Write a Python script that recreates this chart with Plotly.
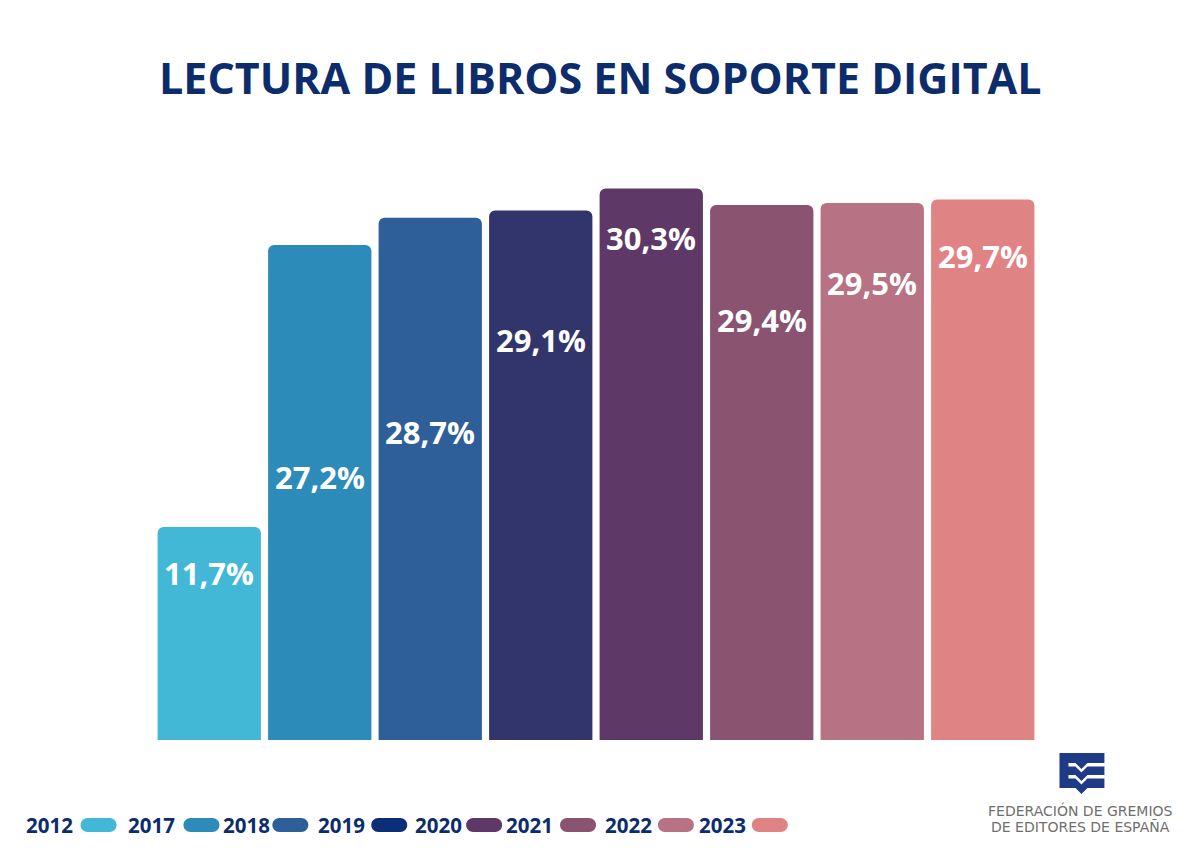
import plotly.graph_objects as go

# ---- data ----
years = ["2012", "2017", "2018", "2019", "2020", "2021", "2022", "2023"]
values = [11.7, 27.2, 28.7, 29.1, 30.3, 29.4, 29.5, 29.7]
labels = ["11,7%", "27,2%", "28,7%", "29,1%", "30,3%", "29,4%", "29,5%", "29,7%"]
bar_colors = ["#42b7d6", "#2d8bb9", "#2e5f98", "#32356b", "#5e3866", "#8a5370", "#b77283", "#e08384"]
legend_colors = ["#42b7d6", "#2d8bb9", "#2e5f98", "#0c2d78", "#5e3866", "#8a5370", "#b77283", "#e08384"]
# label heights (data units) inside bars, as placed in the original
label_heights = [9.2, 14.45, 16.9, 22.0, 27.6, 23.1, 25.1, 26.6]

W, H = 1200, 851
ML, MR, MT, MB = 153.5, 161.5, 150, 111
PW = W - ML - MR
PH = H - MT - MB
YMAX = PH / 18.2

def px(x):
    return (x - ML) / PW

def py(y):
    return (H - MB - y) / PH

NAVY = "#0d2c6c"
idx = list(range(len(years)))

fig = go.Figure()
fig.add_trace(go.Bar(
    x=idx, y=values,
    marker=dict(color=bar_colors, line=dict(width=0), cornerradius=6),
    width=0.935,
    hoverinfo="skip",
))

annotations = []
for i, lab, lh in zip(idx, labels, label_heights):
    annotations.append(dict(
        x=i, y=lh, xref="x", yref="y", text=lab, showarrow=False,
        font=dict(family="Open Sans", size=31, color="white", weight="bold"),
        xanchor="center", yanchor="middle",
    ))

# title
annotations.append(dict(
    x=px(601), y=py(77), xref="paper", yref="paper",
    text="LECTURA DE LIBROS EN SOPORTE DIGITAL", showarrow=False,
    font=dict(family="Open Sans", size=43, color=NAVY, weight="bold"),
    xanchor="center", yanchor="middle",
))

shapes = []
# custom legend: year text followed by a pill
text_x = [23, 125, 221, 316, 413, 504, 603, 697]
pill_x = [80, 183, 272, 371, 466, 560, 658, 752]
pill_w = 36
pill_top, pill_bot = 818, 832
for yr, tx, pxl, col in zip(years, text_x, pill_x, legend_colors):
    annotations.append(dict(
        x=px(tx), y=py(825), xref="paper", yref="paper", text=yr, showarrow=False,
        font=dict(family="Open Sans", size=20.5, color=NAVY, weight="bold"),
        xanchor="left", yanchor="middle",
    ))
    r = (pill_bot - pill_top) / 2
    k = 0.5523 * r
    x0, x1 = pxl, pxl + pill_w
    cy = (pill_top + pill_bot) / 2
    pts = [
        f"M {px(x0 + r)} {py(pill_top)}",
        f"L {px(x1 - r)} {py(pill_top)}",
        f"C {px(x1 - r + k)} {py(pill_top)} {px(x1)} {py(cy - k)} {px(x1)} {py(cy)}",
        f"C {px(x1)} {py(cy + k)} {px(x1 - r + k)} {py(pill_bot)} {px(x1 - r)} {py(pill_bot)}",
        f"L {px(x0 + r)} {py(pill_bot)}",
        f"C {px(x0 + r - k)} {py(pill_bot)} {px(x0)} {py(cy + k)} {px(x0)} {py(cy)}",
        f"C {px(x0)} {py(cy - k)} {px(x0 + r - k)} {py(pill_top)} {px(x0 + r)} {py(pill_top)}",
        "Z",
    ]
    shapes.append(dict(type="path", xref="paper", yref="paper", path=" ".join(pts),
                       fillcolor=col, line=dict(width=0), layer="above"))

# logo icon
LOGO = "#1f3b88"
lx0, lx1, ly0, ly1 = 1060, 1105, 753, 788
logo_pts = [(lx0, ly0), (lx1, ly0), (lx1, ly1), (1088, ly1), (1082, 794), (1076, ly1), (lx0, ly1)]
shapes.append(dict(type="path", xref="paper", yref="paper",
                   path="M " + " L ".join(f"{px(a)} {py(b)}" for a, b in logo_pts) + " Z",
                   fillcolor=LOGO, line=dict(width=0), layer="above"))
for y0 in (763, 775):
    stripe = [(1069, y0), (1076, y0), (1082, y0 + 6), (1088, y0), (lx1 + 1, y0),
              (lx1 + 1, y0 + 3.5), (1088, y0 + 3.5), (1082, y0 + 9.5), (1076, y0 + 3.5), (1069, y0 + 3.5)]
    shapes.append(dict(type="path", xref="paper", yref="paper",
                       path="M " + " L ".join(f"{px(a)} {py(b)}" for a, b in stripe) + " Z",
                       fillcolor="white", line=dict(width=0), layer="above"))
for txt, yy in (("FEDERACIÓN DE GREMIOS", 810), ("DE EDITORES DE ESPAÑA", 827)):
    annotations.append(dict(
        x=px(1081), y=py(yy), xref="paper", yref="paper", text=txt, showarrow=False,
        font=dict(family="DejaVu Sans", size=14, color="#6f6f6f"),
        xanchor="center", yanchor="middle",
    ))

fig.update_layout(
    width=W, height=H,
    margin=dict(l=ML, r=MR, t=MT, b=MB, pad=0),
    paper_bgcolor="white", plot_bgcolor="white",
    showlegend=False,
    xaxis=dict(visible=False, range=[-0.5, len(years) - 0.5], fixedrange=True),
    yaxis=dict(visible=False, range=[0, YMAX], fixedrange=True),
    annotations=annotations,
    shapes=shapes,
)

fig.write_html("out.html", config={"displayModeBar": False},
               post_script="document.body.style.margin='0';document.body.style.overflow='hidden';")
